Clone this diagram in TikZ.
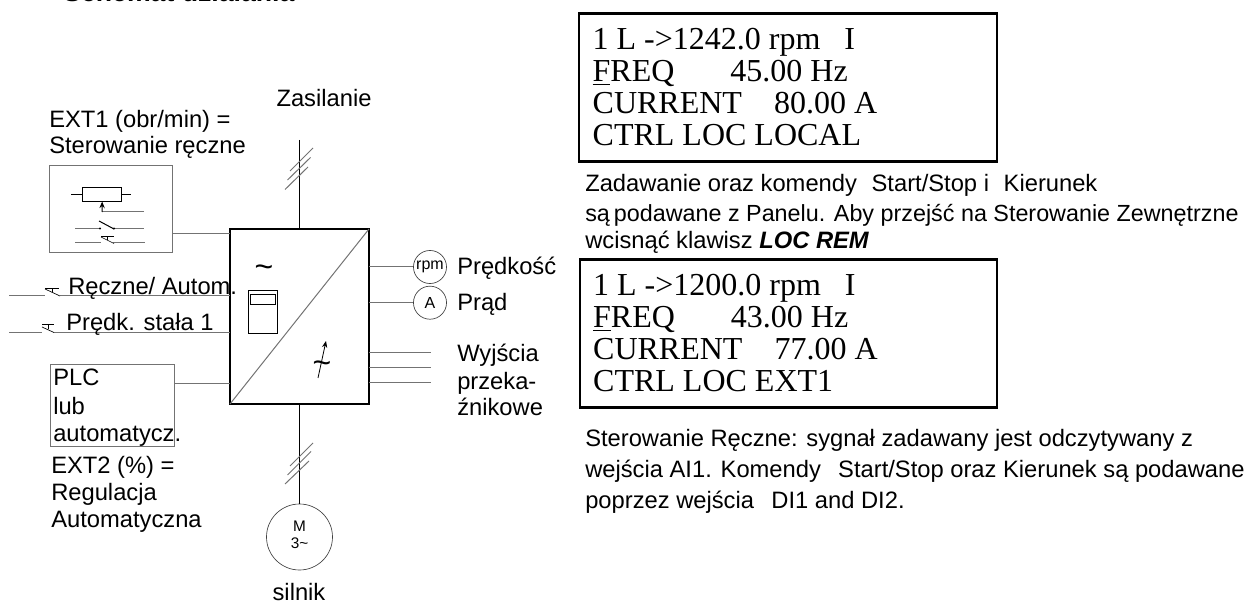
\documentclass[tikz,border=0pt]{standalone}
\usepackage{fontspec}
\setmainfont{Liberation Sans}
\newfontfamily\lcdfont{Liberation Serif}
\usetikzlibrary{arrows.meta}
\tikzset{
  label/.style={anchor=base west, inner sep=0pt, font=\fontsize{17.8}{19.8}\selectfont},
  wire/.style={draw=black!55, line width=0.75pt},
  fine/.style={draw=black, line width=0.75pt},
  lcdbox/.style={draw, line width=1.6pt, outer sep=0pt, inner xsep=10pt, text width=293pt, align=flush left, minimum height=111pt, font=\lcdfont\fontsize{24}{24}\selectfont},
  gauge/.style={circle, draw=black!75, line width=0.5pt, outer sep=0pt, inner sep=0pt, minimum size=24.8pt, font=\fontsize{12}{12}\selectfont},
}
\begin{document}
\begin{tikzpicture}[x=0.75pt, y=-0.75pt, >={Stealth[length=5pt, width=4pt]}]
  \useasboundingbox (0,0) rectangle (1250,602);
  \node[label, font=\bfseries\fontsize{20}{22}\selectfont] (title) at (63,2) {Schemat działania};

  % converter
  \node[draw, line width=2pt, outer sep=0pt, minimum width=104.25pt, minimum height=131.25pt] (conv) at (299.5,316.5) {};
  \draw[wire] (conv.south west) -- (conv.north east);
  \node[inner sep=0pt, font=\fontsize{24}{24}\selectfont] (tildeac) at (264,271) {\textasciitilde};
  \node[draw, line width=0.75pt, outer sep=0pt, minimum width=21.9pt, minimum height=32pt] (keypad) at (263,312.3) {};
  \node[draw, line width=0.75pt, outer sep=0pt, minimum width=18.75pt, minimum height=7.5pt] (keyscreen) at (263,299.5) {};
  \node[inner sep=0pt, font=\fontsize{24}{24}\selectfont] (tildedc) at (322,367.5) {\textasciitilde};
  \coordinate (arrowfrom) at (318,378);
  \coordinate (arrowto) at (326,341);
  \draw[->, line width=0.6pt] (arrowfrom) -- (arrowto);

  % supply and motor
  \coordinate (supply) at (299.5,140);
  \node[label, anchor=base] (zasilanie) at (324,107) {Zasilanie};
  \draw[line width=1pt] (supply) -- (conv.north);
  \draw[wire] (290,171) -- (313,148);
  \draw[wire] (287.5,180) -- (310.5,157.5);
  \draw[wire] (285,189.5) -- (308,167);
  \node[circle, draw=black!75, line width=0.5pt, outer sep=0pt, inner sep=0pt, minimum size=49.5pt] (motor) at (299.5,537) {};
  \node[inner sep=0pt, align=center, font=\fontsize{11.5}{13}\selectfont] (motortext) at (299.5,534.5) {M\\3\textasciitilde};
  \draw[line width=1pt] (conv.south) -- (motor.north);
  \draw[wire] (290,466) -- (313,443);
  \draw[wire] (287.5,475) -- (311,451.5);
  \draw[wire] (285,484) -- (309,461);
  \node[label, anchor=base] (silnik) at (299,600) {silnik};

  % manual control
  \node[label] (extone) at (49,128) {EXT1 (obr/min) =};
  \node[label] (stermanual) at (49,154) {Sterowanie ręczne};
  \node[draw=black!55, line width=0.75pt, outer sep=0pt, minimum width=92.25pt, minimum height=65.25pt] (manualbox) at (111,209.5) {};
  \coordinate (manualin) at (230,234);
  \draw[wire] (manualbox.east |- manualin) -- (manualin);
  \node[draw, line width=0.75pt, outer sep=0pt, minimum width=28.9pt, minimum height=10.5pt] (poti) at (102.2,194.5) {};
  \draw[fine] (71,194.5) -- (poti.west);
  \draw[fine] (poti.east) -- (131,194.5);
  \draw[wire] (144,212) -- (102,212);
  \draw[->, fine] (102,212) -- (poti.south);
  \draw[wire] (75,228.5) -- (100,228.5);
  \draw[wire] (114,228.5) -- (144,228.5);
  \draw[fine] (99,221) -- (114,229);
  \fill (100,228.5) circle (1.2);
  \fill (114,228.5) circle (1.2);
  \draw[wire] (75,242.5) -- (101,242.5);
  \draw[wire] (113,242.5) -- (145,242.5);
  \draw[fine, line width=0.5pt] (101,237) -- (114,243.5);
  \draw[fine, line width=0.5pt] (101,236.5) -- (114,236.5) (107.5,236.5) -- (107.5,240);

  % digital inputs
  \coordinate (selin) at (230,296);
  \coordinate (selout) at (9,296);
  \draw[wire] (selout) -- (45,296);
  \draw[wire] (60,296) -- (selin);
  \draw[fine, line width=0.5pt] (45,289) -- (60,296);
  \draw[fine, line width=0.5pt] (45,288.5) -- (59,288.5) (52,288.5) -- (52,292);
  \node[label] (reczne) at (68,295) {Ręczne/ Autom.};
  \coordinate (spdin) at (230,332.5);
  \coordinate (spdout) at (9,332.5);
  \draw[wire] (spdout) -- (42,332.5);
  \draw[wire] (54,332.5) -- (spdin);
  \draw[fine, line width=0.5pt] (42,327) -- (54,332.5);
  \draw[fine, line width=0.5pt] (42,324.5) -- (54,324.5) (48,324.5) -- (48,329.5);
  \node[label] (predk) at (66,331) {Prędk. stała 1};

  % automatic control
  \node[draw=black!55, line width=0.75pt, outer sep=0pt, minimum width=93pt, minimum height=60.75pt] (plcbox) at (112.5,405.5) {};
  \coordinate (plcin) at (230,384);
  \draw[wire] (plcbox.east |- plcin) -- (plcin);
  \node[label] (plc) at (53,386) {PLC};
  \node[label] (lub) at (53,414) {lub};
  \node[label] (automat) at (53,441) {automatycz.};
  \node[label] (exttwo) at (51,473) {EXT2 (\%) =};
  \node[label] (regulacja) at (51,500) {Regulacja};
  \node[label] (automatyczna) at (51,527) {Automatyczna};

  % outputs
  \node[gauge] (rpm) at (430,267) {rpm};
  \node[gauge] (amp) at (430,302.7) {A};
  \draw[wire] (conv.east |- rpm) -- (rpm);
  \draw[wire] (conv.east |- amp) -- (amp);
  \node[label] (predkosc) at (457,275) {Prędkość};
  \node[label] (prad) at (457,311) {Prąd};
  \coordinate (relayone) at (431,352.3);
  \coordinate (relaytwo) at (431,367.3);
  \coordinate (relaythree) at (431,382.3);
  \draw[wire] (conv.east |- relayone) -- (relayone);
  \draw[wire] (conv.east |- relaytwo) -- (relaytwo);
  \draw[wire] (conv.east |- relaythree) -- (relaythree);
  \node[label] (wyjscia) at (457,362) {Wyjścia};
  \node[label] (przeka) at (457,389) {przeka-};
  \node[label] (znikowe) at (457,415) {źnikowe};

  % displays
  \node[lcdbox] (lcdlocal) at (788,87.5) {1 L ->1242.0 rpm~~~I\\\underline{F}REQ~~~~~~~45.00 Hz\\CURRENT~~~~80.00 A\\CTRL LOC LOCAL};
  \node[label] (zadawanie) at (585,192) {Zadawanie oraz komendy\hspace{11pt}Start/Stop i\hspace{11pt}Kierunek};
  \node[label, font=\fontsize{17.5}{19.8}\selectfont] (podawane) at (585,221.5) {są\hspace{3pt}podawane z Panelu. Aby przejść na Sterowanie Zewnętrzne};
  \node[label] (wcisnac) at (585,249) {wcisnąć klawisz \textbf{\textit{LOC REM}}};
  \node[lcdbox] (lcdext) at (788.5,333.5) {1 L ->1200.0 rpm~~~I\\\underline{F}REQ~~~~~~~43.00 Hz\\CURRENT~~~~77.00 A\\CTRL LOC EXT1};
  \node[label] (sterowanie) at (585,446.5) {Sterowanie Ręczne: sygnał zadawany jest odczytywany z};
  \node[label] (wejscia) at (585,477) {wejścia AI1. Komendy\hspace{13pt}Start/Stop oraz Kierunek są podawane};
  \node[label] (poprzez) at (585,508) {poprzez wejścia\hspace{13pt}DI1 and DI2.};
\end{tikzpicture}
\end{document}
